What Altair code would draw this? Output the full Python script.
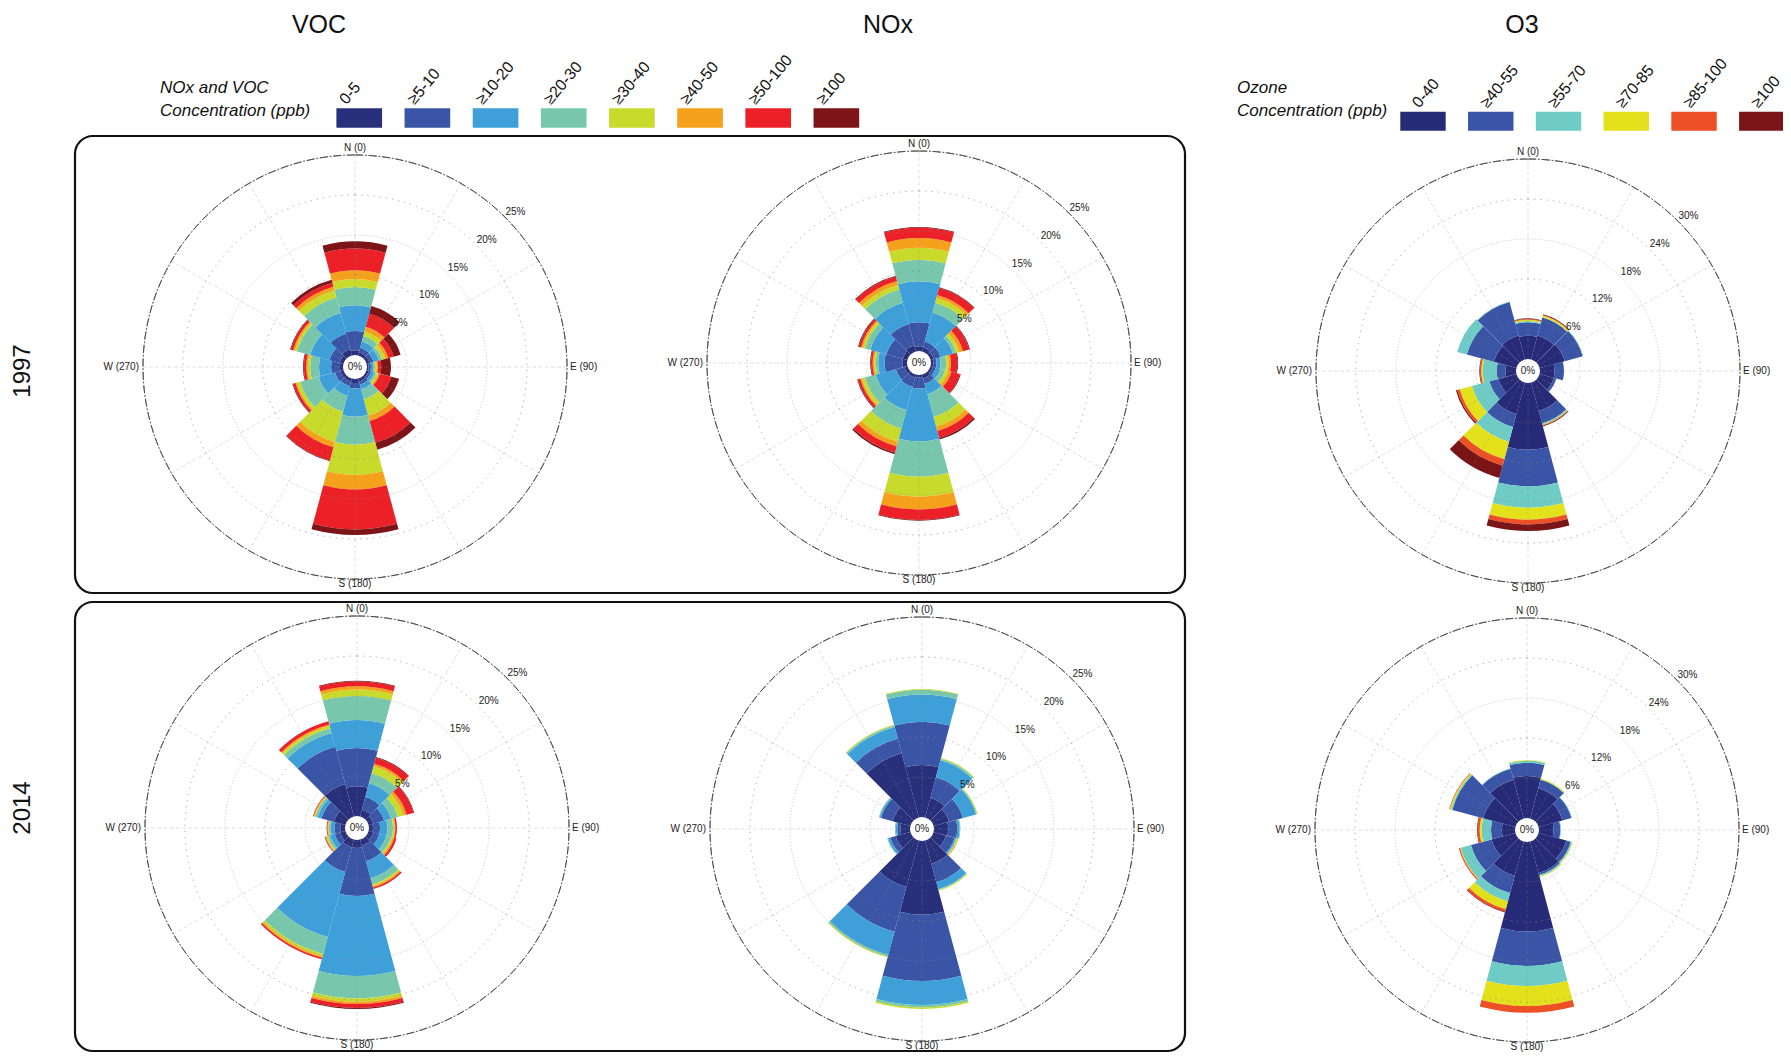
import math
import altair as alt
import pandas as pd

# ---------------------------------------------------------------- data
DIRECTIONS = [0, 30, 60, 90, 120, 150, 180, 210, 240, 270, 300, 330]
SECTOR = 30

NV_BINS = ["0-5", "≥5-10", "≥10-20", "≥20-30", "≥30-40", "≥40-50", "≥50-100", "≥100"]
NV_COLORS = ["#29307b", "#3a55a5", "#3e9fd9", "#78c7ad", "#c8da2c", "#f6a11c", "#ec2127", "#7d1518"]
O3_BINS = ["0-40", "≥40-55", "≥55-70", "≥70-85", "≥85-100", "≥100"]
O3_COLORS = ["#272b77", "#3a55a6", "#6ecbc5", "#e3e11b", "#ee5026", "#7a1517"]

NV_RINGS = [5, 10, 15, 20, 25]
O3_RINGS = [6, 12, 18, 24, 30]

# frequency (%) per direction sector, one list per concentration bin
VOC97_0_5 = [0.6, 0.4, 0.4, 0.2, 0.3, 0.4, 0.5, 0.4, 0.4, 0.4, 0.5, 0.8]
VOC97_5_10 = [2.4, 0.6, 0.5, 0.3, 0.3, 0.4, 0.7, 0.6, 0.7, 1.1, 1.3, 2.0]
VOC97_10_20 = [3.2, 0.8, 0.7, 0.3, 0.4, 0.6, 3.5, 1.2, 2.1, 1.5, 2.5, 2.7]
VOC97_20_30 = [2.3, 0.7, 0.4, 0.2, 0.3, 1.3, 3.5, 2.1, 2.4, 1.1, 1.7, 2.0]
VOC97_30_40 = [1.0, 0.6, 0.4, 0.2, 0.2, 2.1, 3.8, 3.9, 0.4, 0.3, 0.3, 0.9]
VOC97_40_50 = [1.1, 0.6, 0.4, 0.2, 0.2, 0.7, 1.8, 0.7, 0.2, 0.2, 0.2, 0.5]
VOC97_50_100 = [2.7, 1.7, 0.7, 0.4, 1.5, 2.8, 5.0, 1.7, 0.3, 0.3, 0.3, 0.5]
VOC97_100 = [0.9, 1.0, 0.9, 1.2, 1.0, 0.9, 0.7, 0.1, 0.1, 0.1, 0.1, 0.4]

NOX97_0_5 = [0.6, 0.5, 0.4, 0.3, 0.3, 0.5, 0.3, 0.4, 0.4, 0.6, 0.6, 0.8]
NOX97_5_10 = [3.0, 0.8, 0.9, 0.4, 0.4, 0.7, 1.4, 1.2, 1.1, 2.2, 2.1, 2.7]
NOX97_10_20 = [5.1, 3.7, 1.6, 0.5, 0.6, 1.3, 6.6, 3.0, 2.6, 0.8, 2.1, 2.8]
NOX97_20_30 = [2.7, 1.3, 0.4, 0.7, 0.6, 3.0, 4.4, 2.4, 1.4, 0.3, 0.7, 1.7]
NOX97_30_40 = [1.5, 0.6, 0.4, 0.3, 0.4, 1.2, 2.5, 1.7, 0.4, 0.2, 0.3, 0.6]
NOX97_40_50 = [1.2, 0.4, 0.5, 0.3, 0.4, 0.6, 1.6, 0.6, 0.2, 0.2, 0.2, 0.5]
NOX97_50_100 = [1.3, 0.9, 0.8, 0.8, 1.1, 0.9, 1.3, 0.8, 0.3, 0.2, 0.3, 0.6]
NOX97_100 = [0.1, 0.1, 0.1, 0.1, 0.1, 0.2, 0.1, 0.2, 0.1, 0.1, 0.1, 0.1]

O397_0_40 = [3.5, 3.7, 3.9, 2.2, 2.2, 4.4, 10.0, 4.9, 2.8, 1.6, 3.5, 3.7]
O397_40_55 = [2.0, 2.8, 2.8, 1.4, 0.4, 1.9, 5.5, 2.0, 1.4, 1.3, 4.2, 5.2]
O397_55_70 = [0.2, 0.1, 0.1, 0.0, 0.0, 0.2, 3.2, 2.3, 2.7, 2.1, 1.5, 0.1]
O397_70_85 = [0.2, 0.2, 0.0, 0.0, 0.0, 0.1, 1.8, 2.7, 1.9, 0.2, 0.0, 0.0]
O397_85_100 = [0.1, 0.1, 0.0, 0.0, 0.0, 0.1, 0.7, 1.0, 0.4, 0.2, 0.0, 0.0]
O397_100 = [0.1, 0.1, 0.0, 0.0, 0.0, 0.1, 1.0, 1.9, 0.2, 0.1, 0.0, 0.0]

VOC14_0_5 = [3.7, 0.9, 0.6, 0.5, 0.6, 0.8, 1.0, 1.0, 0.7, 0.6, 1.5, 4.2]
VOC14_5_10 = [4.8, 1.6, 1.4, 0.9, 0.8, 2.0, 6.0, 3.2, 0.7, 0.7, 1.6, 4.8]
VOC14_10_20 = [3.5, 1.8, 0.9, 0.9, 0.9, 2.2, 10.0, 8.4, 0.6, 0.5, 0.5, 1.8]
VOC14_20_30 = [3.0, 1.3, 0.9, 0.7, 0.6, 0.8, 2.8, 2.2, 0.3, 0.2, 0.3, 0.6]
VOC14_30_40 = [0.8, 0.9, 0.7, 0.2, 0.2, 0.2, 0.4, 0.3, 0.2, 0.1, 0.1, 0.3]
VOC14_40_50 = [0.4, 0.3, 0.4, 0.1, 0.2, 0.2, 0.3, 0.2, 0.1, 0.1, 0.1, 0.2]
VOC14_50_100 = [0.6, 0.8, 0.9, 0.2, 0.3, 0.2, 0.5, 0.2, 0.1, 0.1, 0.1, 0.4]
VOC14_100 = [0.1, 0.1, 0.1, 0.0, 0.0, 0.0, 0.1, 0.0, 0.0, 0.0, 0.0, 0.0]

NOX14_0_5 = [6.5, 2.5, 2.0, 1.8, 1.6, 3.0, 9.2, 6.0, 1.9, 1.2, 2.3, 8.3]
NOX14_5_10 = [5.4, 2.7, 1.8, 1.1, 1.1, 2.4, 8.3, 5.8, 0.7, 0.4, 1.5, 1.9]
NOX14_10_20 = [3.4, 2.2, 1.7, 0.3, 0.2, 0.9, 3.0, 3.0, 0.3, 0.2, 0.2, 1.5]
NOX14_20_30 = [0.6, 0.2, 0.1, 0.1, 0.1, 0.1, 0.3, 0.2, 0.1, 0.1, 0.1, 0.2]
NOX14_30_40 = [0.1, 0.1, 0.1, 0.0, 0.1, 0.1, 0.2, 0.1, 0.0, 0.0, 0.0, 0.1]
NOX14_40_50 = [0.0, 0.0, 0.0, 0.0, 0.1, 0.0, 0.0, 0.0, 0.0, 0.0, 0.0, 0.0]
NOX14_50_100 = [0.0, 0.0, 0.0, 0.0, 0.0, 0.0, 0.0, 0.0, 0.0, 0.0, 0.0, 0.0]
NOX14_100 = [0.0, 0.0, 0.0, 0.0, 0.0, 0.0, 0.0, 0.0, 0.0, 0.0, 0.0, 0.0]

O314_0_40 = [6.3, 4.7, 3.7, 2.2, 4.3, 4.9, 13.4, 5.3, 3.7, 2.0, 5.0, 6.0]
O314_40_55 = [2.0, 1.3, 1.4, 1.0, 0.7, 0.3, 5.2, 2.7, 3.2, 1.6, 4.8, 1.7]
O314_55_70 = [0.3, 0.1, 0.1, 0.1, 0.2, 0.2, 3.0, 1.3, 1.6, 1.4, 0.2, 0.1]
O314_70_85 = [0.1, 0.1, 0.0, 0.0, 0.1, 0.1, 3.0, 1.2, 0.1, 0.3, 0.2, 0.0]
O314_85_100 = [0.0, 0.0, 0.0, 0.0, 0.0, 0.0, 1.0, 0.4, 0.2, 0.3, 0.1, 0.0]
O314_100 = [0.0, 0.0, 0.0, 0.0, 0.0, 0.0, 0.0, 0.1, 0.0, 0.1, 0.0, 0.0]

VOC97 = [VOC97_0_5, VOC97_5_10, VOC97_10_20, VOC97_20_30, VOC97_30_40, VOC97_40_50, VOC97_50_100, VOC97_100]
NOX97 = [NOX97_0_5, NOX97_5_10, NOX97_10_20, NOX97_20_30, NOX97_30_40, NOX97_40_50, NOX97_50_100, NOX97_100]
VOC14 = [VOC14_0_5, VOC14_5_10, VOC14_10_20, VOC14_20_30, VOC14_30_40, VOC14_40_50, VOC14_50_100, VOC14_100]
NOX14 = [NOX14_0_5, NOX14_5_10, NOX14_10_20, NOX14_20_30, NOX14_30_40, NOX14_40_50, NOX14_50_100, NOX14_100]
O397 = [O397_0_40, O397_40_55, O397_55_70, O397_70_85, O397_85_100, O397_100]
O314 = [O314_0_40, O314_40_55, O314_55_70, O314_70_85, O314_85_100, O314_100]

# ---------------------------------------------------------------- layout / style
W, H = 1775, 1045
HOLE, OUTER = 12, 212
TWO_PI = 2 * math.pi
FONT = "Liberation Sans"
THETA = alt.Scale(domain=[0, 360], range=[0, TWO_PI])
GRID = "#8a8a8a"


def one_row():
    return pd.DataFrame({"k": [0]})


def sector_frame(series, bins):
    rows = []
    for i, d in enumerate(DIRECTIONS):
        base = 0.0
        for k, name in enumerate(bins):
            v = series[k][i]
            if v > 0:
                rows.append({"dir": d, "a0": d - SECTOR / 2, "a1": d + SECTOR / 2,
                             "bin": name, "freq": v,
                             "r0": round(base, 4), "r1": round(base + v, 4)})
            base += v
    return pd.DataFrame(rows)


def rose(series, bins, colors, rings, cx, cy):
    rmax = rings[-1]
    rs = alt.Scale(type="linear", domain=[0, rmax], range=[HOLE, OUTER])
    X, Y = alt.value(cx), alt.value(cy)
    layers = []
    layers.append(alt.Chart(sector_frame(series, bins)).mark_arc().encode(
        x=X, y=Y,
        theta=alt.Theta("a0:Q", scale=THETA, stack=False),
        theta2=alt.Theta2("a1"),
        radius=alt.Radius("r1:Q", scale=rs),
        radius2=alt.Radius2("r0"),
        color=alt.Color("bin:N", scale=alt.Scale(domain=bins, range=colors), legend=None),
    ))
    # dotted grid rings (zero-width annuli)
    inner = rings[:-1]
    grid = pd.DataFrame({"a0": [0] * len(inner), "a1": [360] * len(inner), "ring": inner})
    layers.append(alt.Chart(grid).mark_arc(
        fillOpacity=0, stroke=GRID, strokeWidth=0.6, strokeDash=[1.2, 5], strokeOpacity=0.7
    ).encode(x=X, y=Y,
             theta=alt.Theta("a0:Q", scale=THETA, stack=False), theta2=alt.Theta2("a1"),
             radius=alt.Radius("ring:Q", scale=rs), radius2=alt.Radius2("ring")))
    # outer ring
    outer = pd.DataFrame({"a0": [0], "a1": [360], "ring": [rmax]})
    layers.append(alt.Chart(outer).mark_arc(
        fillOpacity=0, stroke="#444444", strokeWidth=0.8, strokeDash=[8, 2, 1.5, 2]
    ).encode(x=X, y=Y,
             theta=alt.Theta("a0:Q", scale=THETA, stack=False), theta2=alt.Theta2("a1"),
             radius=alt.Radius("ring:Q", scale=rs), radius2=alt.Radius2("ring")))
    # spokes
    spokes = pd.DataFrame({"angle": DIRECTIONS, "inner": [0] * 12, "outer": [rmax] * 12})
    layers.append(alt.Chart(spokes).mark_arc(
        fillOpacity=0, stroke=GRID, strokeWidth=0.6, strokeDash=[1.2, 5], strokeOpacity=0.7
    ).encode(x=X, y=Y,
             theta=alt.Theta("angle:Q", scale=THETA, stack=False), theta2=alt.Theta2("angle"),
             radius=alt.Radius("outer:Q", scale=rs), radius2=alt.Radius2("inner")))
    # ring labels
    lab = pd.DataFrame({"ring": rings, "label": [f"{v}%" for v in rings]})
    layers.append(alt.Chart(lab).mark_text(
        fontSize=10, font=FONT, color="#222222", radiusOffset=11, align="center", baseline="middle"
    ).encode(x=X, y=Y, theta=alt.value(math.radians(46)),
             radius=alt.Radius("ring:Q", scale=rs), text="label:N"))
    # compass labels
    for name, ang, align, base, off in [("N (0)", 0, "center", "bottom", 2),
                                        ("E (90)", 90, "left", "middle", 3),
                                        ("S (180)", 180, "center", "top", 0),
                                        ("W (270)", 270, "right", "middle", 4)]:
        df = pd.DataFrame({"pos": [rmax], "label": [name]})
        layers.append(alt.Chart(df).mark_text(
            fontSize=10, font=FONT, color="#222222", radiusOffset=off, align=align, baseline=base
        ).encode(x=X, y=Y, theta=alt.value(math.radians(ang)),
                 radius=alt.Radius("pos:Q", scale=rs), text="label:N"))
    layers.append(alt.Chart(one_row()).mark_text(
        text="0%", fontSize=10, font=FONT, color="#222222", align="center", baseline="middle"
    ).encode(x=X, y=Y))
    return layers


def legend(bins, colors, x0, x1, top, bottom, band_pos):
    xs = alt.Scale(type="band", domain=bins, range=[x0, x1], paddingInner=0.33, paddingOuter=0)
    df = pd.DataFrame({"bin": bins})
    sw = alt.Chart(df).mark_rect().encode(
        x=alt.X("bin:N", scale=xs, axis=None),
        y=alt.value(top), y2=alt.value(bottom),
        color=alt.Color("bin:N", scale=alt.Scale(domain=bins, range=colors), legend=None))
    tx = alt.Chart(df).mark_text(
        angle=310, align="left", baseline="alphabetic", fontSize=16, font=FONT, color="#111111"
    ).encode(x=alt.X("bin:N", scale=xs, axis=None, bandPosition=band_pos),
             y=alt.value(top - 3), text="bin:N")
    return [sw, tx]


def label(txt, x, y, **kw):
    return alt.Chart(one_row()).mark_text(text=txt, font=FONT, color="#111111", **kw).encode(
        x=alt.value(x), y=alt.value(y))


def box(x0, y0, x1, y1):
    return alt.Chart(one_row()).mark_rect(
        fillOpacity=0, stroke="#111111", strokeWidth=2.2, cornerRadius=18
    ).encode(x=alt.value(x0), x2=alt.value(x1), y=alt.value(y0), y2=alt.value(y1))


# ---------------------------------------------------------------- compose
layers = [
    box(67, 128, 1177, 585),
    box(67, 594, 1177, 1043),
    label("VOC", 311, 25, fontSize=25, align="center", baseline="alphabetic"),
    label("NOx", 880, 25, fontSize=25, align="center", baseline="alphabetic"),
    label("O3", 1514, 25, fontSize=25, align="center", baseline="alphabetic"),
    label("1997", 15, 363, fontSize=24, angle=270, align="center", baseline="middle"),
    label("2014", 15, 800, fontSize=24, angle=270, align="center", baseline="middle"),
    label("NOx and VOC", 152, 80, fontSize=17, fontStyle="italic", align="left", baseline="middle"),
    label("Concentration (ppb)", 152, 103, fontSize=17, fontStyle="italic", align="left", baseline="middle"),
    label("Ozone", 1229, 80, fontSize=17, fontStyle="italic", align="left", baseline="middle"),
    label("Concentration (ppb)", 1229, 103, fontSize=17, fontStyle="italic", align="left", baseline="middle"),
]
layers += legend(NV_BINS, NV_COLORS, 328.4, 851.2, 100.3, 119.7, 0.22)
layers += legend(O3_BINS, O3_COLORS, 1392.3, 1776.5, 103.7, 122.7, 0.42)
layers += rose(VOC97, NV_BINS, NV_COLORS, NV_RINGS, 347, 359)
layers += rose(NOX97, NV_BINS, NV_COLORS, NV_RINGS, 911, 355)
layers += rose(O397, O3_BINS, O3_COLORS, O3_RINGS, 1520, 363)
layers += rose(VOC14, NV_BINS, NV_COLORS, NV_RINGS, 349, 820)
layers += rose(NOX14, NV_BINS, NV_COLORS, NV_RINGS, 914, 821)
layers += rose(O314, O3_BINS, O3_COLORS, O3_RINGS, 1519, 822)

chart = alt.layer(*layers).resolve_scale(
    x="independent", color="independent", radius="independent", theta="independent"
).properties(
    width=W, height=H, padding=0, background="white",
    autosize=alt.AutoSizeParams(type="none"),
).configure_view(strokeWidth=0)

chart.save("out.html", embed_options={"renderer": "svg", "actions": False})
